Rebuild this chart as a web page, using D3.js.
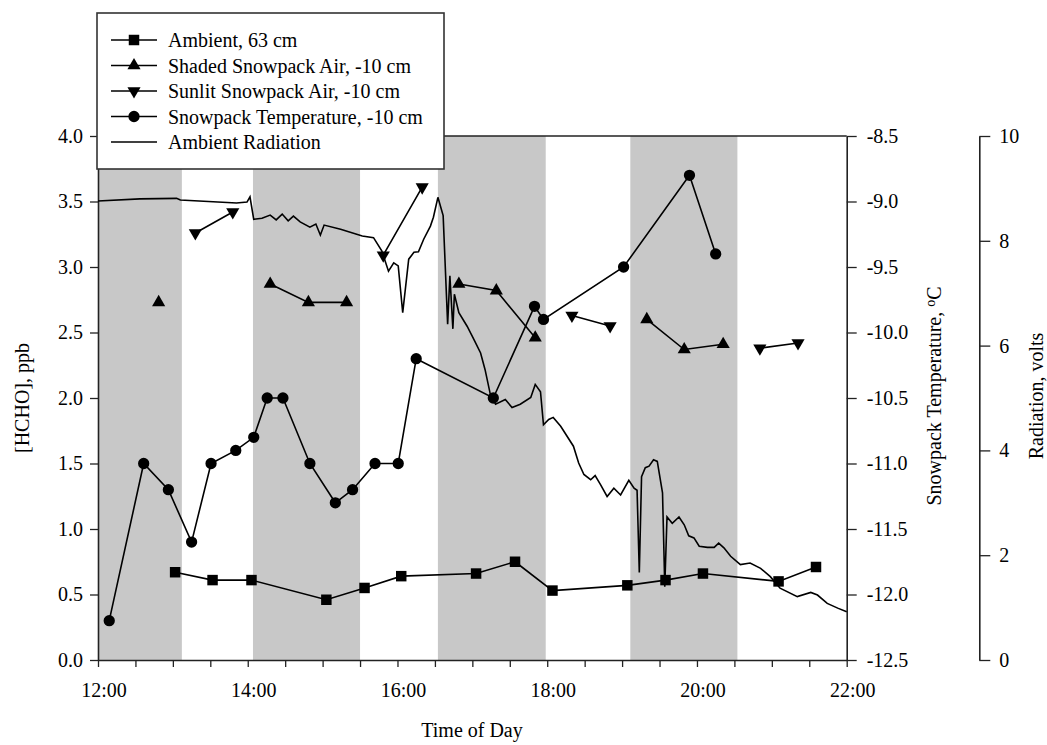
<!DOCTYPE html>
<html>
<head>
<meta charset="utf-8">
<script src="https://cdn.jsdelivr.net/npm/d3@7"></script>
<style>
  body { margin: 0; background: #fff; }
  svg text { font-family: "Liberation Serif", "Times New Roman", serif; fill: #000; }
</style>
</head>
<body>
<svg id="chart"></svg>
<script>
// time of day in decimal hours, null = break in the line
const ambientTime = [13.03, 13.53, 14.05, 15.05, 15.56, 16.05, 17.05, 17.57, 18.07, 19.07, 19.58, 20.08, 21.09, 21.59];
const ambientHCHO = [0.67, 0.61, 0.61, 0.46, 0.55, 0.64, 0.66, 0.75, 0.53, 0.57, 0.61, 0.66, 0.60, 0.71];

const shadedTime = [12.81, null, 14.30, 14.81, 15.32, null, 16.82, 17.32, 17.84, null, 19.33, 19.83, 20.35];
const shadedHCHO = [2.73, null, 2.87, 2.73, 2.73, null, 2.87, 2.82, 2.46, null, 2.60, 2.37, 2.41];

const sunlitTime = [13.30, 13.80, null, 15.81, 16.33, null, 18.33, 18.84, null, 20.84, 21.35];
const sunlitHCHO = [3.26, 3.42, null, 3.09, 3.61, null, 2.63, 2.55, null, 2.38, 2.42];

const snowTime = [12.15, 12.61, 12.94, 13.25, 13.51, 13.84, 14.08, 14.26, 14.47, 14.83, 15.17, 15.40, 15.70, 16.01, 16.25, 17.28, 17.83, 17.95, 19.02, 19.90, 20.25];
const snowTemp = [-12.2, -11.0, -11.2, -11.6, -11.0, -10.9, -10.8, -10.5, -10.5, -11.0, -11.3, -11.2, -11.0, -11.0, -10.2, -10.5, -9.8, -9.9, -9.5, -8.8, -9.4];

const radTime = [12.00, 12.56, 13.05, 13.10, 13.85, 13.99, 14.03, 14.08, 14.19, 14.30, 14.38, 14.46, 14.54, 14.61, 14.70, 14.83, 14.91, 14.97, 15.02, 15.24,
  15.53, 15.68, 15.79, 15.88, 15.95, 16.01, 16.07, 16.15, 16.22, 16.28, 16.35, 16.44, 16.48, 16.54, 16.61, 16.67, 16.70, 16.74, 16.76, 16.82,
  16.93, 17.02, 17.11, 17.17, 17.24, 17.31, 17.44, 17.53, 17.64, 17.78, 17.84, 17.91, 17.95, 18.02, 18.08, 18.18, 18.35, 18.42, 18.49, 18.58,
  18.64, 18.71, 18.80, 18.89, 18.98, 19.09, 19.16, 19.20, 19.23, 19.26, 19.31, 19.36, 19.42, 19.47, 19.54, 19.57, 19.60, 19.67, 19.76, 19.83,
  19.89, 19.96, 20.03, 20.14, 20.23, 20.29, 20.36, 20.45, 20.58, 20.71, 20.85, 20.98, 21.11, 21.34, 21.52, 21.61, 21.74, 21.88, 22.00];
const radVolts = [8.76, 8.80, 8.81, 8.78, 8.72, 8.74, 8.84, 8.41, 8.43, 8.49, 8.40, 8.51, 8.38, 8.47, 8.36, 8.26, 8.32, 8.11, 8.30, 8.22,
  8.09, 8.06, 7.81, 7.42, 7.58, 7.52, 6.63, 7.65, 7.78, 7.79, 8.03, 8.28, 8.45, 8.83, 8.48, 6.41, 7.33, 6.32, 6.98, 6.63,
  6.37, 6.12, 5.86, 5.54, 5.07, 4.88, 4.97, 4.82, 4.88, 5.01, 5.26, 5.12, 4.49, 4.59, 4.63, 4.46, 4.08, 3.76, 3.54, 3.44,
  3.52, 3.35, 3.12, 3.28, 3.15, 3.43, 3.28, 3.24, 1.67, 3.50, 3.67, 3.70, 3.82, 3.79, 3.19, 1.40, 2.73, 2.61, 2.73, 2.58,
  2.37, 2.33, 2.17, 2.15, 2.15, 2.23, 2.14, 1.98, 1.82, 1.85, 1.75, 1.59, 1.37, 1.21, 1.29, 1.24, 1.08, 0.99, 0.92];

// dark (shaded) periods
const bandStart = [12.00, 14.07, 16.54, 19.11];
const bandEnd = [13.12, 15.50, 17.98, 20.54];

const xTicks = d3.range(12, 22.01, 0.5);
const hchoTicks = d3.range(0, 4.01, 0.5);
const tempTicks = d3.range(-12.5, -8.49, 0.5);
const radTicks = [0, 2, 4, 6, 8, 10];

const legendLabels = ['Ambient, 63 cm', 'Shaded Snowpack Air, -10 cm', 'Sunlit Snowpack Air, -10 cm',
  'Snowpack Temperature, -10 cm', 'Ambient Radiation'];

const width = 1047, height = 745;
const svg = d3.select('#chart').attr('width', width).attr('height', height);

const x = d3.scaleLinear().domain([12, 22]).range([98, 846.7]);
const yH = d3.scaleLinear().domain([0, 4]).range([660, 136]);
const yT = d3.scaleLinear().domain([-12.5, -8.5]).range([660, 136]);
const yR = d3.scaleLinear().domain([0, 10]).range([660, 136]);

// gray bands
svg.append('g').selectAll('rect')
  .data(bandStart.map((s, i) => [s, bandEnd[i]]))
  .join('rect')
  .attr('x', d => x(d[0]))
  .attr('width', d => x(d[1]) - x(d[0]))
  .attr('y', yH(4))
  .attr('height', yH(0) - yH(4))
  .attr('fill', '#c8c8c8');

// top frame line
svg.append('line')
  .attr('x1', x(12)).attr('x2', x(22))
  .attr('y1', yH(4)).attr('y2', yH(4))
  .attr('stroke', '#222').attr('stroke-width', 1.3);

function styleAxis(g) {
  g.selectAll('path.domain').attr('stroke', '#222').attr('stroke-width', 1.6);
  g.selectAll('.tick line').attr('stroke', '#222').attr('stroke-width', 1.3);
  g.selectAll('.tick text').attr('font-size', 20).attr('font-family', '"Liberation Serif", serif');
}

svg.append('g')
  .attr('transform', `translate(0,${yH(0)})`)
  .call(d3.axisBottom(x).tickValues(xTicks).tickSize(7).tickSizeOuter(0).tickPadding(16)
    .tickFormat(d => d % 2 === 0 ? d + ':00' : ''))
  .call(styleAxis)
  .call(g => g.selectAll('.tick text').attr('dx', 5.5));

svg.append('g')
  .attr('transform', `translate(${x(12)},0)`)
  .call(d3.axisLeft(yH).tickValues(hchoTicks).tickSize(8).tickSizeOuter(0).tickPadding(7)
    .tickFormat(d => d.toFixed(1)))
  .call(styleAxis);

svg.append('g')
  .attr('transform', `translate(${x(22)},0)`)
  .call(d3.axisRight(yT).tickValues(tempTicks).tickSize(10).tickSizeOuter(0).tickPadding(10)
    .tickFormat(d => d.toFixed(1)))
  .call(styleAxis);

svg.append('g')
  .attr('transform', 'translate(979.3,0)')
  .call(d3.axisRight(yR).tickValues(radTicks).tickSize(11).tickSizeOuter(0).tickPadding(9)
    .tickFormat(d => d))
  .call(styleAxis);

// axis titles
svg.append('text')
  .attr('transform', 'translate(22,398) rotate(-90)')
  .attr('text-anchor', 'middle').attr('dy', '0.35em').attr('font-size', 20)
  .text('[HCHO], ppb');

const tTitle = svg.append('text')
  .attr('transform', 'translate(934,396) rotate(-90)')
  .attr('text-anchor', 'middle').attr('dy', '0.35em').attr('font-size', 20);
tTitle.append('tspan').text('Snowpack Temperature, ');
tTitle.append('tspan').attr('font-size', 14).attr('baseline-shift', '45%').text('o');
tTitle.append('tspan').text('C');

svg.append('text')
  .attr('transform', 'translate(1036,396) rotate(-90)')
  .attr('text-anchor', 'middle').attr('dy', '0.35em').attr('font-size', 20)
  .text('Radiation, volts');

svg.append('text')
  .attr('x', 472).attr('y', 737)
  .attr('text-anchor', 'middle').attr('font-size', 20)
  .text('Time of Day');

// series
const plot = svg.append('g');
function pairs(ts, vs) { return ts.map((t, i) => t === null ? null : [t, vs[i]]); }

function drawSeries(data, yScale, symbol, rotate) {
  const line = d3.line().defined(d => d !== null).x(d => x(d[0])).y(d => yScale(d[1]));
  plot.append('path')
    .attr('d', line(data))
    .attr('fill', 'none').attr('stroke', '#000').attr('stroke-width', 1.6);
  if (symbol) {
    plot.append('g').selectAll('path')
      .data(data.filter(d => d !== null))
      .join('path')
      .attr('d', symbol)
      .attr('transform', d => `translate(${x(d[0])},${yScale(d[1])})` + (rotate ? ' rotate(180)' : ''))
      .attr('fill', '#000');
  }
}

const sqSym = d3.symbol(d3.symbolSquare, 110)();
const triSym = d3.symbol(d3.symbolTriangle, 75)();
const circSym = d3.symbol(d3.symbolCircle, 100)();

drawSeries(pairs(radTime, radVolts), yR, null);
drawSeries(pairs(ambientTime, ambientHCHO), yH, sqSym);
drawSeries(pairs(shadedTime, shadedHCHO), yH, triSym);
drawSeries(pairs(sunlitTime, sunlitHCHO), yH, triSym, true);
drawSeries(pairs(snowTime, snowTemp), yT, circSym);

// legend
const legend = svg.append('g');
legend.append('rect')
  .attr('x', 97).attr('y', 13).attr('width', 347).attr('height', 156)
  .attr('fill', '#fff').attr('stroke', '#333').attr('stroke-width', 1.6);

const legendSyms = [sqSym, triSym, triSym, circSym, null];
legendLabels.forEach((lab, i) => {
  const ly = 40 + i * 25.5;
  legend.append('line')
    .attr('x1', 111).attr('x2', 157).attr('y1', ly).attr('y2', ly)
    .attr('stroke', '#000').attr('stroke-width', 1.6);
  if (legendSyms[i]) {
    legend.append('path')
      .attr('d', legendSyms[i])
      .attr('transform', `translate(134,${ly})` + (i === 2 ? ' rotate(180)' : ''))
      .attr('fill', '#000');
  }
  legend.append('text')
    .attr('x', 168).attr('y', ly).attr('dy', '0.35em').attr('font-size', 20)
    .text(lab);
});
</script>
</body>
</html>
